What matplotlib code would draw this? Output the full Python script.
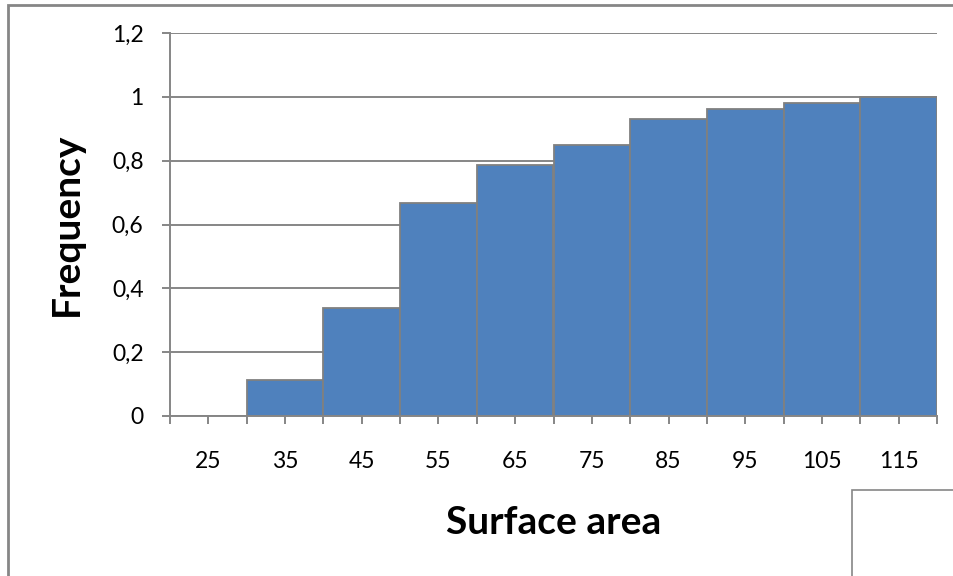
import matplotlib
matplotlib.use("Agg")
import matplotlib.pyplot as plt
from matplotlib.patches import Rectangle

categories = ["25", "35", "45", "55", "65", "75", "85", "95", "105", "115"]
frequency = [0.0, 0.113, 0.339, 0.668, 0.787, 0.850, 0.931, 0.962, 0.981, 1.0]
y_ticks = [0, 0.2, 0.4, 0.6, 0.8, 1.0, 1.2]
y_labels = ["0", "0,2", "0,4", "0,6", "0,8", "1", "1,2"]

plt.rcParams['font.family'] = ['Lato', 'DejaVu Sans']
W, H = 954, 576
fig = plt.figure(figsize=(W / 100, H / 100), dpi=100)

# outer chart border and small box at bottom-right
fig.patches.append(Rectangle((8 / W, -0.1), 1.2, (H - 5) / H + 0.1, transform=fig.transFigure,
                             fill=False, edgecolor="#868686", lw=2))
fig.patches.append(Rectangle((852 / W, -0.1), 0.5, (H - 490) / H + 0.1, transform=fig.transFigure,
                             fill=False, edgecolor="#868686", lw=1.2))

ax = fig.add_axes([170 / W, 1 - 416 / H, (937 - 170) / W, (416 - 33) / H])
x = list(range(len(categories)))
ax.bar(x, frequency, width=1.0, color="#4F81BD", edgecolor="#808080", linewidth=1.3, zorder=3)
ax.set_xlim(-0.5, len(categories) - 0.5)
ax.set_ylim(0, 1.2)
ax.set_yticks(y_ticks)
ax.set_yticklabels(y_labels)
ax.grid(axis="y", color="#868686", linewidth=1.4, zorder=0)
ax.set_axisbelow(True)

ax.set_xticks(x)
ax.set_xticklabels(categories)
ax.set_xticks([i - 0.5 for i in range(len(categories) + 1)], minor=True)

for s in ["top", "right"]:
    ax.spines[s].set_visible(False)
for s in ["left", "bottom"]:
    ax.spines[s].set_color("#868686")
    ax.spines[s].set_linewidth(1.4)
    ax.spines[s].set_zorder(4)

ax.tick_params(axis="x", which="both", length=6, width=1.4, color="#868686", direction="out")
ax.tick_params(axis="x", which="major", pad=19, labelsize=16.5)
ax.tick_params(axis="y", length=6, width=1.4, color="#868686", pad=13, labelsize=16.5)

ax.set_xlabel("Surface area", fontsize=28, fontweight="bold", labelpad=24)
ax.set_ylabel("Frequency", fontsize=28, fontweight="bold", labelpad=20)

fig.savefig("out.png", dpi=100)
